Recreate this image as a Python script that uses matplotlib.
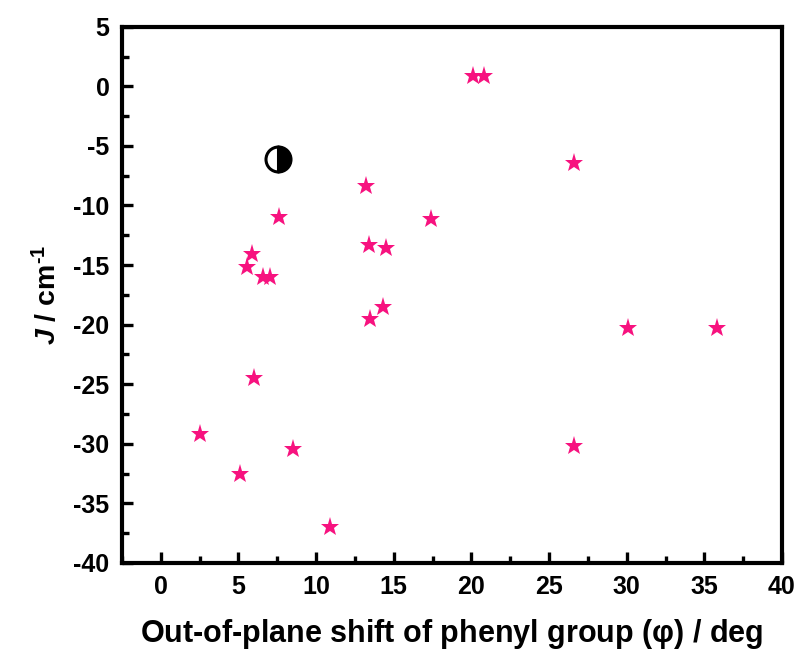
import matplotlib
matplotlib.use("Agg")
import matplotlib.pyplot as plt
from matplotlib.ticker import MultipleLocator

plt.rcParams['font.family'] = ['Liberation Sans', 'DejaVu Sans']
plt.rcParams['axes.unicode_minus'] = False
plt.rcParams['mathtext.fontset'] = 'custom'
plt.rcParams['mathtext.rm'] = 'Liberation Sans:bold'
plt.rcParams['mathtext.bf'] = 'Liberation Sans:bold'
plt.rcParams['mathtext.it'] = 'Liberation Sans:italic:bold'

# Out-of-plane shift (deg) and exchange coupling J (cm^-1) for the star series
phi_deg = [2.5, 5.1, 6.0, 8.5, 10.9, 5.9, 5.55, 6.6, 7.0, 7.6,
           13.2, 13.4, 14.5, 13.5, 14.3, 17.4, 20.1, 20.8, 26.6, 26.6,
           30.1, 35.8]
j_cm = [-29.2, -32.5, -24.5, -30.4, -37.0, -14.1, -15.2, -16.0, -16.0, -11.0,
        -8.4, -13.3, -13.6, -19.5, -18.5, -11.1, 0.9, 0.9, -6.4, -30.2,
        -20.3, -20.3]

# Single highlighted compound (half-filled circle)
phi_ref = [7.55]
j_ref = [-6.1]

x_ticks = [0, 5, 10, 15, 20, 25, 30, 35, 40]
y_ticks = [-40, -35, -30, -25, -20, -15, -10, -5, 0, 5]

fig = plt.figure(figsize=(8.0, 6.53), dpi=100)
ax = fig.add_axes([0.1525, 0.138, 0.825, 0.821])

ax.plot(phi_deg, j_cm, linestyle='none', marker='*', markersize=14,
        color='#F7127F', markeredgewidth=0)
ax.plot(phi_ref, j_ref, linestyle='none', marker='o', markersize=18,
        fillstyle='right', markerfacecolor='black', markerfacecoloralt='white',
        markeredgecolor='black', markeredgewidth=2.2)

ax.set_xlim(-2.5, 40)
ax.set_ylim(-40, 5)
ax.set_xticks(x_ticks)
ax.set_yticks(y_ticks)
ax.xaxis.set_minor_locator(MultipleLocator(2.5))
ax.yaxis.set_minor_locator(MultipleLocator(2.5))

for s in ax.spines.values():
    s.set_linewidth(3.0)

ax.tick_params(which='major', direction='in', length=8, width=2.4,
               top=False, right=False, pad=9, labelsize=18)
ax.tick_params(which='minor', direction='in', length=5, width=2.4,
               top=False, right=False)
for lab in ax.get_xticklabels() + ax.get_yticklabels():
    lab.set_fontweight('bold')

ax.set_xlabel(r'Out-of-plane shift of phenyl group ($\mathrm{\varphi}$) / deg',
              fontsize=22, fontweight='bold', labelpad=13)
ax.set_ylabel(r'$J$ / cm$^{\text{-1}}$', fontsize=20.5,
              fontweight='bold', labelpad=8)

fig.savefig('out.png', dpi=100)
